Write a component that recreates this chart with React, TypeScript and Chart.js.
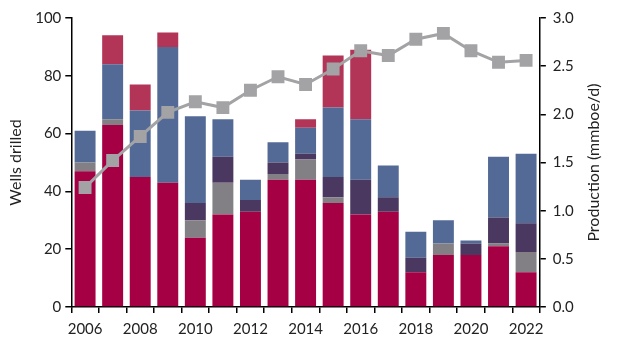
import React, { useEffect, useRef } from "react";
import { Chart, registerables } from "chart.js";

Chart.register(...registerables);

const years = ["2006","2007","2008","2009","2010","2011","2012","2013","2014","2015","2016","2017","2018","2019","2020","2021","2022"];
const seriesA = [47, 63, 45, 43, 24, 32, 33, 44, 44, 36, 32, 33, 12, 18, 18, 21, 12];
const seriesB = [3, 2, 0, 0, 6, 11, 0, 2, 7, 2, 0, 0, 0, 4, 0, 1, 7];
const seriesC = [0, 0, 0, 0, 6, 9, 4, 4, 2, 7, 12, 5, 5, 0, 4, 9, 10];
const seriesD = [11, 19, 23, 47, 30, 13, 7, 7, 9, 24, 21, 11, 9, 8, 1, 21, 24];
const seriesE = [0, 10, 9, 5, 0, 0, 0, 0, 3, 18, 24, 0, 0, 0, 0, 0, 0];
const production = [1.24, 1.52, 1.77, 2.02, 2.13, 2.07, 2.25, 2.39, 2.31, 2.47, 2.66, 2.61, 2.78, 2.84, 2.66, 2.54, 2.56];

const FONT = "Lato, 'DejaVu Sans', sans-serif";
const RIGHT_TITLE = "Production (mmboe/d)";

const rightTitlePlugin = {
  id: "rightTitle",
  afterDraw(chart: any) {
    const s = chart.scales.y1;
    if (!s) return;
    const c = chart.ctx;
    c.save();
    c.font = `16px ${FONT}`;
    c.fillStyle = "#222";
    c.textAlign = "center";
    c.textBaseline = "middle";
    const x = s.right - 10;
    const y = (s.top + s.bottom) / 2;
    c.translate(x, y);
    c.rotate(-Math.PI / 2);
    c.fillText(RIGHT_TITLE, 0, 0);
    c.restore();
  },
};

export default function App() {
  const ref = useRef<HTMLCanvasElement>(null);
  useEffect(() => {
    document.body.style.margin = "0";
    const ctx = ref.current!;
    const bar = (data: number[], color: string) => ({
      type: "bar" as const,
      data,
      backgroundColor: color,
      yAxisID: "y",
      stack: "s",
      barPercentage: 0.76,
      categoryPercentage: 1,
      order: 2,
    });
    const chart = new Chart(ctx, {
      type: "bar",
      data: {
        labels: years,
        datasets: [
          bar(seriesA, "#a50044"),
          bar(seriesB, "#828084"),
          bar(seriesC, "#4a3860"),
          bar(seriesD, "#536a96"),
          bar(seriesE, "#b23456"),
          {
            type: "line" as const,
            data: production,
            yAxisID: "y1",
            borderColor: "#a3a3a6",
            backgroundColor: "#a3a3a6",
            borderWidth: 3,
            pointStyle: "rect",
            pointRadius: 7,
            pointHoverRadius: 7,
            order: 1,
          } as any,
        ],
      },
      options: {
        animation: false,
        responsive: false,
        maintainAspectRatio: false,
        layout: { padding: { left: 6, right: 17, top: 18, bottom: 8 } },
        plugins: { legend: { display: false }, tooltip: { enabled: false } },
        scales: {
          x: {
            stacked: true,
            grid: { offset: true, drawOnChartArea: false, drawTicks: true, tickLength: 6, color: "#000", lineWidth: 1.5 },
            border: { color: "#000", width: 1.5 },
            ticks: {
              autoSkip: false,
              maxRotation: 0,
              color: "#222",
              font: { family: FONT, size: 15 },
              padding: 7,
              callback: (_v: any, i: number) => (i % 2 === 0 ? years[i] : ""),
            },
          },
          y: {
            stacked: true,
            position: "left",
            min: 0,
            max: 100,
            grid: { drawOnChartArea: false, drawTicks: true, tickLength: 6, color: "#000", lineWidth: 1.5 },
            border: { color: "#000", width: 1.5 },
            ticks: { stepSize: 20, color: "#222", font: { family: FONT, size: 15 }, padding: 4 },
            title: { display: true, text: "Wells drilled", color: "#222", font: { family: FONT, size: 16 }, padding: { top: 0, bottom: 6 } },
          },
          y1: {
            position: "right",
            min: 0,
            max: 3,
            grid: { drawOnChartArea: false, drawTicks: true, tickLength: 6, color: "#000", lineWidth: 1.5 },
            border: { color: "#000", width: 1.5 },
            ticks: { stepSize: 0.5, color: "#222", font: { family: FONT, size: 15 }, padding: 7, callback: (v: any) => Number(v).toFixed(1) },
            title: { display: true, text: RIGHT_TITLE, color: "rgba(0,0,0,0)", font: { family: FONT, size: 16 }, padding: { top: 4, bottom: 0 } },
          },
        },
      },
      plugins: [rightTitlePlugin],
    });
    return () => chart.destroy();
  }, []);
  return (
    <div style={{ width: 621, height: 353 }}>
      <canvas ref={ref} width={621} height={353} style={{ width: 621, height: 353, display: "block" }} />
    </div>
  );
}
